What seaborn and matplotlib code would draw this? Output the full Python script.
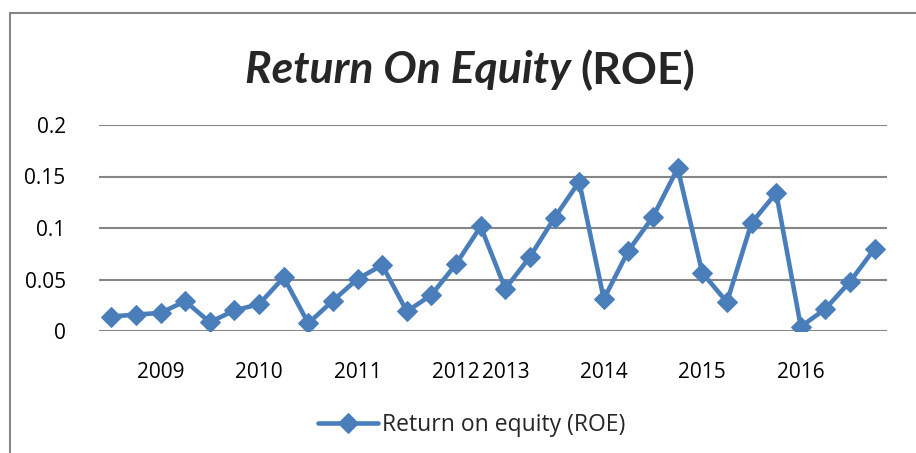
import matplotlib
matplotlib.use("Agg")
import matplotlib.pyplot as plt
import seaborn as sns
import pandas as pd
from matplotlib.patches import Rectangle

# Data
quarters = list(range(32))
roe = [0.014, 0.016, 0.0175, 0.029, 0.0085, 0.020, 0.026, 0.052,
       0.0075, 0.0295, 0.0505, 0.064, 0.019, 0.035, 0.065, 0.1015,
       0.041, 0.072, 0.110, 0.145, 0.031, 0.078, 0.111, 0.158,
       0.0565, 0.028, 0.105, 0.134, 0.0042, 0.0215, 0.048, 0.080]
x_labels = ["", "", "2009", "", "", "", "2010", "", "", "", "2011", "",
            "", "", "2012", "", "2013", "", "", "", "2014", "", "", "",
            "2015", "", "", "", "2016", "", "", ""]
y_ticks = [0, 0.05, 0.1, 0.15, 0.2]
y_labels = ["0", "0.05", "0.1", "0.15", "0.2"]
series_name = "Return on equity (ROE)"

sns.set_style("white")
plt.rcParams['font.family'] = ['Open Sans', 'DejaVu Sans']

W, H = 916, 453
fig = plt.figure(figsize=(W / 100, H / 100), dpi=100)
ax = fig.add_axes([99 / W, 1 - 331 / H, (887 - 99) / W, (331 - 125) / H])

df = pd.DataFrame({"q": quarters, "roe": roe})
color = "#4A7EBB"
sns.lineplot(data=df, x="q", y="roe", ax=ax, color=color, linewidth=3.3,
             marker="D", markersize=10.5, markeredgecolor=color,
             markerfacecolor=color, label=series_name, legend=False)

fs = 15
ax.set_xlim(-0.5, 31.5)
ax.set_ylim(0, 0.2)
ax.set_yticks(y_ticks)
ax.set_yticklabels(y_labels, fontsize=fs, color="black")
ax.set_xticks(quarters)
ax.set_xticklabels(x_labels, fontsize=fs, color="black")
ax.tick_params(axis="both", length=0)
ax.tick_params(axis="y", pad=24)
ax.tick_params(axis="x", pad=22)
ax.set_xlabel("")
ax.set_ylabel("")
for s in ax.spines.values():
    s.set_visible(False)
ax.grid(axis="y", color="#868686", linewidth=1.5)
ax.set_axisbelow(True)

# Legend
handles, labels = ax.get_legend_handles_labels()
leg = fig.legend(handles, labels, loc="center", bbox_to_anchor=(472 / W, 1 - 425 / H),
                 frameon=False, fontsize=16.5, handlelength=2.6, handletextpad=0.2)

# Chart border
fig.add_artist(Rectangle((10 / W, -0.1), 1.2, 1 - 13 / H + 0.1, transform=fig.transFigure,
                         fill=False, edgecolor="#868686", linewidth=1.5, clip_on=False))

# Title: bold italic part + bold part
fig.canvas.draw()
r = fig.canvas.get_renderer()
ty = 1 - 70 / H
tfam = ['Lato', 'DejaVu Sans']
t1 = fig.text(0, ty, "Return On Equity ", fontsize=32, fontweight="bold",
              fontstyle="italic", ha="left", va="center", family=tfam)
t2 = fig.text(0, ty, "(ROE)", fontsize=32, fontweight="bold", ha="left", va="center",
              family=tfam)
w1 = t1.get_window_extent(r).width
w2 = t2.get_window_extent(r).width
cx = 470
start = cx - (w1 + w2) / 2
t1.set_x(start / W)
t2.set_x((start + w1) / W)

fig.savefig("out.png", dpi=100)
